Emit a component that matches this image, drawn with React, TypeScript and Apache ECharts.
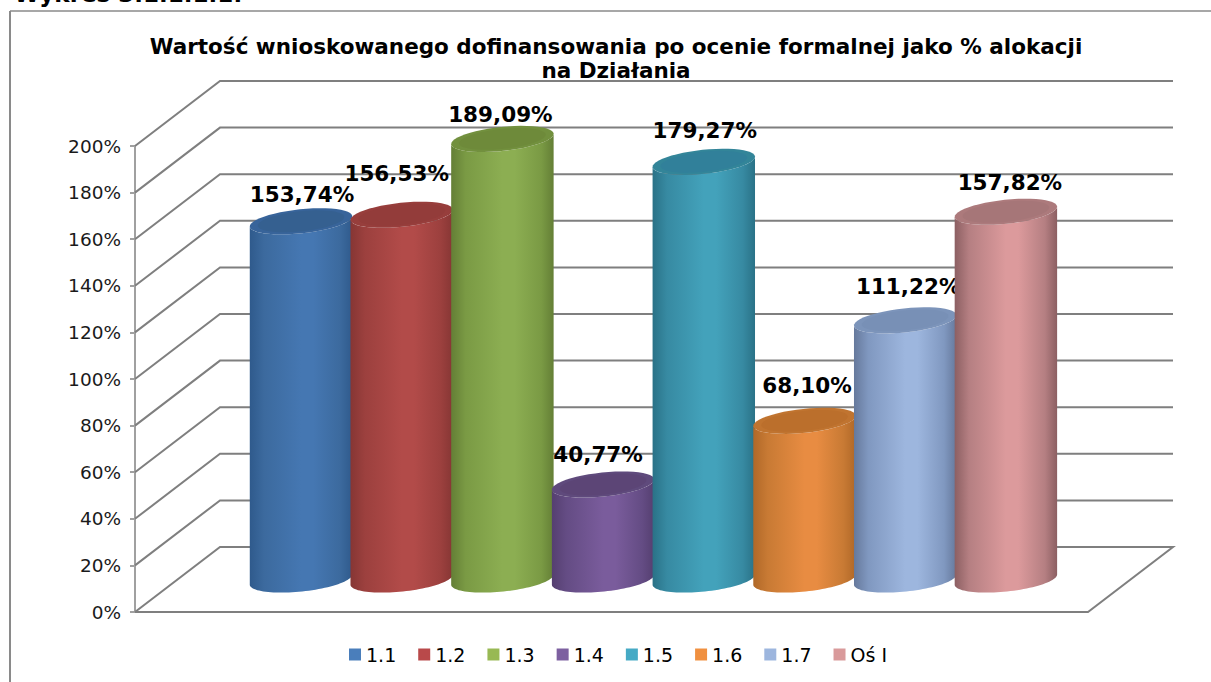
import React, { useEffect, useRef } from "react";
import * as echarts from "echarts";

const categories = ["1.1", "1.2", "1.3", "1.4", "1.5", "1.6", "1.7", "Oś I"];
const values = [153.74, 156.53, 189.09, 40.77, 179.27, 68.1, 111.22, 157.82];
const labels = ["153,74%", "156,53%", "189,09%", "40,77%", "179,27%", "68,10%", "111,22%", "157,82%"];
const yTicks = [0, 20, 40, 60, 80, 100, 120, 140, 160, 180, 200];
const legendColors = ["#4a7ebb", "#b9494a", "#98b954", "#7d60a0", "#46aac5", "#f09040", "#9db6de", "#d99a9b"];
const midColors = ["#4577b2", "#b24b49", "#8cae52", "#7a5c9c", "#43a2bb", "#e88c42", "#9db6de", "#dc9a9c"];
const edgeColors = ["#2f5a8c", "#863634", "#647f36", "#553f70", "#2a7287", "#b06828", "#66799c", "#8c5f62"];
const rimColors = ["#3c6a9e", "#9c403e", "#7a9a44", "#644c84", "#378aa2", "#c87a34", "#8098c0", "#b57f82"];
const topRimColors = ["#38649a", "#973e3c", "#72903e", "#5f4a7c", "#338599", "#c07430", "#7c94ba", "#ac7a7c"];
const topColors = ["#356090", "#933c3a", "#6e8a3a", "#5c4576", "#31809a", "#bb6f2c", "#7890b6", "#a67678"];
const labelShiftX = [1, -5, -2, -5, 1, 2.5, 3, 4];
const labelShiftY = [-27, -41, -24, -30, -31, -35, -34, -29];

const DEPTH_X = 85;
const DEPTH_Y = 65;
const RX = 51.5;
const RY = 12;
const TILT = (-6 * Math.PI) / 180;
const FONT = "'DejaVu Sans', Verdana, sans-serif";

function ellPt(cx: number, cy: number, t: number, rx: number, ry: number) {
  const x = rx * Math.cos(t);
  const y = ry * Math.sin(t);
  return [cx + x * Math.cos(TILT) - y * Math.sin(TILT), cy + x * Math.sin(TILT) + y * Math.cos(TILT)];
}

function arc(cx: number, cy: number, from: number, to: number, rx: number, ry: number) {
  const pts: number[][] = [];
  for (let k = 0; k <= 48; k++) pts.push(ellPt(cx, cy, from + ((to - from) * k) / 48, rx, ry));
  return pts;
}

function cylinderSeries(i: number) {
  return {
    type: "custom",
    name: categories[i],
    coordinateSystem: "cartesian2d",
    xAxisIndex: 1,
    yAxisIndex: 1,
    z: 5 + i,
    itemStyle: { color: legendColors[i] },
    data: [[i, values[i]]],
    renderItem: (_: any, api: any) => {
      const cat = api.value(0);
      const val = api.value(1);
      const top = api.coord([cat, val]);
      const base = api.coord([cat, 0]);
      const cx = top[0] + DEPTH_X / 2;
      const ty = top[1] - DEPTH_Y / 2;
      const by = base[1] - DEPTH_Y / 2;
      const bodyPts = [...arc(cx, by, Math.PI, 0, RX, RY), ...arc(cx, ty, 0, Math.PI, RX, RY)];
      const grad = new echarts.graphic.LinearGradient(0, 0, 1, 0, [
        { offset: 0, color: edgeColors[i] },
        { offset: 0.14, color: rimColors[i] },
        { offset: 0.5, color: midColors[i] },
        { offset: 0.62, color: midColors[i] },
        { offset: 0.88, color: rimColors[i] },
        { offset: 1, color: edgeColors[i] },
      ]);
      return {
        type: "group",
        children: [
          { type: "polygon", shape: { points: bodyPts }, style: { fill: grad } },
          { type: "polygon", shape: { points: arc(cx, ty, 0, Math.PI * 2, RX, RY) }, style: { fill: topRimColors[i] } },
          { type: "polygon", shape: { points: arc(cx, ty, 0, Math.PI * 2, RX - 8, RY - 2) }, style: { fill: topColors[i] } },
          {
            type: "text",
            z2: 50,
            style: {
              x: cx + labelShiftX[i],
              y: ty + labelShiftY[i],
              text: labels[i],
              fill: "#000",
              font: `bold 21.5px ${FONT}`,
              align: "center",
              verticalAlign: "middle",
            },
          },
        ],
      };
    },
  };
}

export default function App() {
  const ref = useRef<HTMLDivElement>(null);
  useEffect(() => {
    document.body.style.margin = "0";
    const chart = echarts.init(ref.current!, null, { renderer: "svg" });
    chart.setOption({
      animation: false,
      backgroundColor: "#fff",
      title: {
        text: "Wartość wnioskowanego dofinansowania po ocenie formalnej jako % alokacji\nna Działania",
        left: 611,
        top: 29,
        textAlign: "center",
        textStyle: { fontFamily: FONT, fontWeight: "bold", fontSize: 21.5, lineHeight: 24, color: "#000" },
      },
      legend: {
        data: categories,
        left: 344,
        top: 640,
        itemWidth: 12,
        itemHeight: 12,
        itemGap: 22,
        icon: "rect",
        textStyle: { fontFamily: FONT, fontSize: 19, color: "#000" },
      },
      grid: [
        { left: 135, top: 146, width: 953, height: 466 },
        { left: 208.15, top: 146, width: 805.6, height: 466 },
      ],
      xAxis: [
        { gridIndex: 0, type: "value", min: 0, max: 1, show: false },
        { gridIndex: 1, type: "category", data: categories, show: false },
      ],
      yAxis: [
        {
          gridIndex: 0,
          type: "value",
          min: 0,
          max: 200,
          interval: 20,
          axisLine: { show: true, lineStyle: { color: "#a0a0a0", width: 2 } },
          axisTick: { show: true, length: 5, lineStyle: { color: "#a0a0a0", width: 2 } },
          axisLabel: { formatter: "{value}%", margin: 14, fontFamily: FONT, fontSize: 18.5, color: "#1a1a1a" },
          splitLine: { show: false },
        },
        { gridIndex: 1, type: "value", min: 0, max: 200, interval: 20, show: false },
      ],
      graphic: [
        { type: "line", silent: true, shape: { x1: 10, y1: 11, x2: 1211, y2: 11 }, style: { stroke: "#8a8a8a", lineWidth: 1.5 } },
        { type: "line", silent: true, shape: { x1: 10, y1: 11, x2: 10, y2: 682 }, style: { stroke: "#8a8a8a", lineWidth: 2 } },
        { type: "text", silent: true, x: 14, y: -18, style: { text: "Wykres 3.1.1.1.1:", font: `bold 23px ${FONT}`, fill: "#000" } },
      ],
      series: [
        {
          type: "custom",
          name: "walls",
          coordinateSystem: "cartesian2d",
          xAxisIndex: 0,
          yAxisIndex: 0,
          z: 1,
          silent: true,
          data: yTicks.map((v) => [0, v]),
          renderItem: (_: any, api: any) => {
            const v = api.value(1);
            const a = api.coord([0, v]);
            const b = api.coord([1, v]);
            const pts = [a, [a[0] + DEPTH_X, a[1] - DEPTH_Y], [b[0] + DEPTH_X, b[1] - DEPTH_Y]];
            if (v === 0) pts.push(b, a);
            return { type: "polyline", shape: { points: pts }, style: { stroke: "#7f7f7f", lineWidth: 2, fill: "none" } };
          },
        },
        ...categories.map((_, i) => cylinderSeries(i)),
      ],
    });
    return () => chart.dispose();
  }, []);
  return <div ref={ref} style={{ position: "fixed", left: 0, top: 0, width: 1211, height: 682 }} />;
}
